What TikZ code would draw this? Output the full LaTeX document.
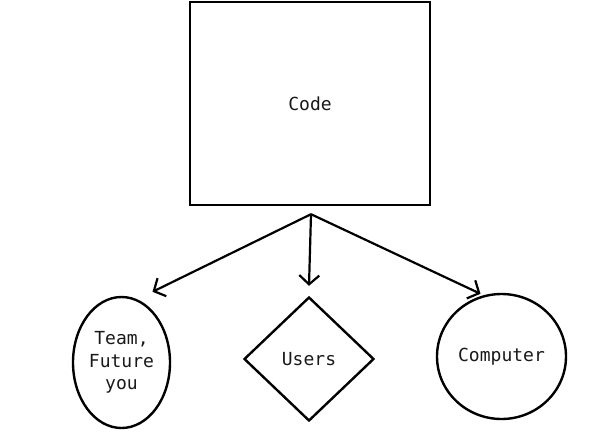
\documentclass[tikz,border=0pt]{standalone}
\usepackage{fontspec}
\setmonofont{DejaVu Sans Mono}
\usepackage{tikz}
\usetikzlibrary{positioning, calc, arrows.meta, shapes.geometric}
\tikzset{
    codebox/.style={
        draw, line width=2.4pt, minimum width=240pt, minimum height=203pt, inner sep=0pt
    },
    ovalnode/.style={
        ellipse, draw, line width=2.4pt, inner sep=0pt, align=center
    },
    rhombnode/.style={
        diamond, draw, line width=2.4pt, minimum width=130pt, minimum height=124pt, inner sep=0pt
    },
    ptr/.style={
        -{Straight Barb[length=9pt, width=20pt, line width=2.2pt]}, line width=2.2pt, black
    }
}

\begin{document}
\begin{tikzpicture}[
                x=1pt, y=-1pt,
                every node/.style={font=\ttfamily\fontsize{18}{22.5}\selectfont, text=black!90}
            ]
                \useasboundingbox (0,0) rectangle (594,436);

                % --- NODES ---
                \node[codebox] (code) at (310,103.5) {Code};
                \node[ovalnode, minimum width=97pt, minimum height=131pt] (team) at (121.5,362.5) {Team,\\Future\\you};
                \node[rhombnode] (users) at (309,359) {Users};
                \node[ovalnode, minimum width=129pt, minimum height=125pt] (computer) at (501.5,356.5) {Computer};

                % --- ARROW ENDS ---
                \coordinate (fork) at ($(code.south)+(1,8)$);
                \coordinate (teamtip) at ($(team.north)+(31,-4)$);
                \coordinate (userstip) at ($(users.north)+(0,-10)$);
                \coordinate (comptip) at ($(computer.north)+(-21,1)$);

                % --- ARROWS ---
                \draw[ptr] (fork) -- (teamtip);
                \draw[ptr] (fork) -- (userstip);
                \draw[ptr] (fork) -- (comptip);

            \end{tikzpicture}
\end{document}
